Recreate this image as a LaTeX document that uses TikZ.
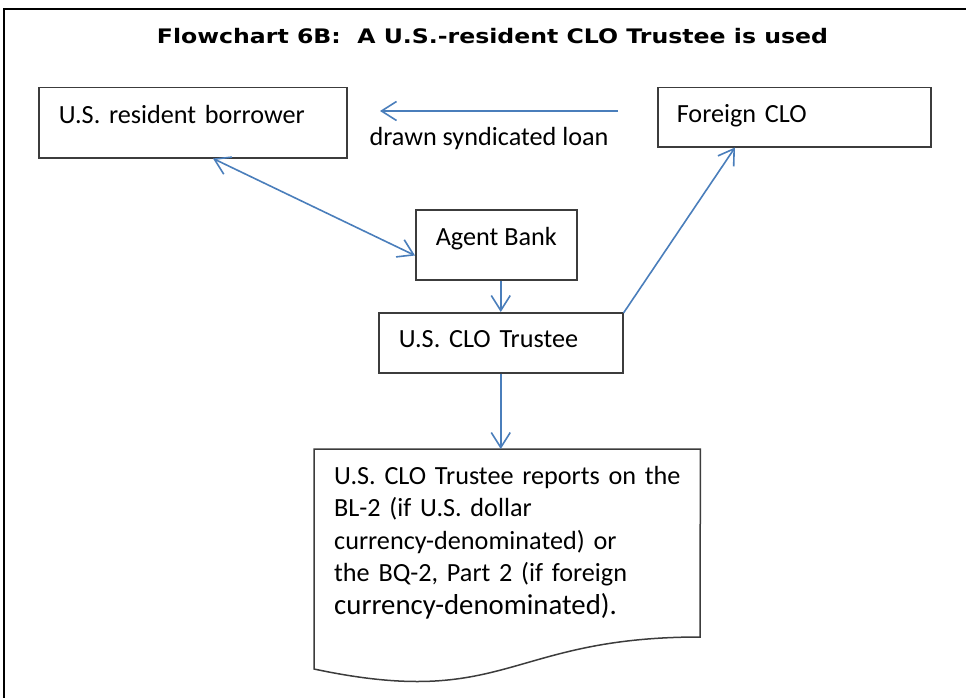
\documentclass[tikz,border=0pt]{standalone}
\usepackage{fontspec}
\setmainfont{Carlito}
\newfontfamily\titlefont{DejaVu Sans}[FakeStretch=1.18]
\usetikzlibrary{arrows.meta}
\definecolor{arrowblue}{HTML}{4A7EBB}
\definecolor{edgegray}{HTML}{3C3C3C}
\frenchspacing
\tikzset{
  barb/.tip={Straight Barb[length=15pt,width=19pt]},
  box/.style={draw=edgegray, line width=1.5pt, anchor=north west, inner ysep=0pt,
    align=left, font=\fontsize{26.2}{32.5}\selectfont},
  link/.style={draw=arrowblue, line width=1.6pt},
  bodytext/.style={font=\fontsize{26.2}{32.5}\selectfont},
}

\begin{document}
\begin{tikzpicture}[x=1pt,y=-1pt]
  \useasboundingbox (0,0) rectangle (966,698);
  \draw[line width=1.8pt] (4,720) -- (4,9) -- (990,9);
  \node[anchor=base, font=\titlefont\bfseries\fontsize{20}{24}\selectfont] (title)
    at (492.5,44) {Flowchart 6B:~ A U.S.-resident CLO Trustee is used};

  % boxes
  \node[box, inner xsep=20pt, text width=268pt, text height=36pt, text depth=34pt]
    (borrower) at (38,87) {U.S. resident borrower};
  \node[box, inner xsep=19pt, text width=235pt, text height=35pt, text depth=24pt]
    (foreign) at (657,87) {Foreign CLO};
  \node[box, inner xsep=20pt, text height=36pt, text depth=34pt]
    (agent) at (415,209) {Agent Bank};
  \node[box, inner xsep=20pt, text width=204pt, text height=35pt, text depth=25pt]
    (trustee) at (378,312) {U.S. CLO Trustee};

  % report sheet
  \node[anchor=north west, minimum width=386pt, minimum height=236pt, inner sep=0pt]
    (report) at (314,449) {};
  \draw[edgegray, line width=1.5pt] (report.north west) -- (report.north east)
    -- (700,637) .. controls (507,637) and (507,710) .. (314,669) -- cycle;
  \node[bodytext, anchor=north west, align=left, inner sep=0pt, text width=370pt]
    (reporttext) at (334,466) {U.S. CLO Trustee reports on the\\
    BL-2 (if U.S. dollar\\
    currency-denominated) or\\
    the BQ-2, Part 2 (if foreign\\
    {\fontsize{28.8}{32.5}\selectfont currency-denominated).}};

  % connectors
  \coordinate (loanfrom) at (618,111);
  \coordinate (loanto) at (380,111);
  \draw[link, -barb] (loanfrom) -- (loanto);
  \node[bodytext, anchor=base] (loan) at (489,146) {drawn syndicated loan};
  \draw[link, barb-barb] ([xshift=175pt]borrower.south west)
    -- ([yshift=25pt]agent.south west);
  \draw[link, -barb] (trustee.north |- agent.south) -- (trustee.north);
  \draw[link, -barb] ([yshift=-1pt]trustee.north east)
    -- ([xshift=78pt]foreign.south west);
  \draw[link, -barb] (trustee.south) -- (trustee.south |- report.north);
\end{tikzpicture}
\end{document}
